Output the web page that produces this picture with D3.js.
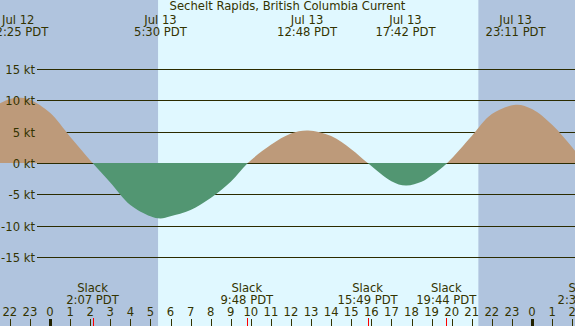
<!DOCTYPE html>
<html>
<head>
<meta charset="utf-8">
<script src="https://cdn.jsdelivr.net/npm/d3@7"></script>
<style>
  body { margin: 0; overflow: hidden; }
  svg { display: block; }
  text { font-family: 'DejaVu Sans', sans-serif; font-size: 11.6px; fill: #333300; }
</style>
</head>
<body>
<svg id="canverse"></svg>
<script>
// hours counted from Jul 13 00:00 PDT
let curveHours = [-2.5, -2, -1.58, -1, 0, 1, 2.12, 3, 4, 5, 5.5, 6, 7, 8, 9, 9.85, 11, 12, 12.85, 14, 15, 15.82, 17, 17.72, 18.5, 19, 19.78, 21, 22, 23.2, 24, 25, 26, 26.6]
let curveKnots = [9.5, 10.2, 10.4, 10.1, 8.0, 4.2, 0, -3.1, -6.7, -8.5, -8.85, -8.5, -7.5, -5.6, -3.0, 0, 2.9, 4.7, 5.2, 4.3, 2.2, 0, -2.9, -3.6, -3.0, -2.0, 0, 4.3, 7.8, 9.3, 8.6, 6.1, 2.5, 0]

let maxHours = [-1.583, 5.5, 12.8, 17.7, 23.183]
let maxDays = ['Jul 12', 'Jul 13', 'Jul 13', 'Jul 13', 'Jul 13']
let maxTimes = ['22:25 PDT', '5:30 PDT', '12:48 PDT', '17:42 PDT', '23:11 PDT']

let slackHours = [2.117, 9.8, 15.817, 19.733, 26.583]
let slackTimes = ['2:07 PDT', '9:48 PDT', '15:49 PDT', '19:44 PDT', '2:35 PDT']

let sunrise = 5.38
let sunset = 21.33

let ktTicks = [15, 10, 5, 0, -5, -10, -15]
let hourTicks = d3.range(-2, 27)

let title = 'Sechelt Rapids, British Columbia Current'

let width = 575
let height = 326

let svg = d3.select('#canverse').attr('width', width).attr('height', height)

let xScale = d3.scaleLinear().domain([0, 24]).range([50, 532])
let yScale = d3.scaleLinear().domain([-15, 15]).range([257, 69])
let y0 = Math.round(yScale(0))

// day / night background
svg.append('rect').attr('width', width).attr('height', height).attr('fill', '#e0f8ff')
svg.append('rect').attr('x', 0).attr('y', 0)
   .attr('width', xScale(sunrise)).attr('height', height).attr('fill', '#b0c4de')
svg.append('rect').attr('x', xScale(sunset)).attr('y', 0)
   .attr('width', width - xScale(sunset)).attr('height', height).attr('fill', '#b0c4de')

// kt grid
svg.selectAll('.grid')
   .data(ktTicks)
   .enter()
   .append('line')
   .attr('class', 'grid')
   .attr('x1', 37).attr('x2', width)
   .attr('y1', d => Math.round(yScale(d)) + 0.5)
   .attr('y2', d => Math.round(yScale(d)) + 0.5)
   .attr('stroke', '#2b2b00').attr('stroke-width', 1)

// current area, split at zero
let defs = svg.append('defs')
defs.append('clipPath').attr('id', 'above')
    .append('rect').attr('x', 0).attr('y', 0).attr('width', width).attr('height', y0)
defs.append('clipPath').attr('id', 'below')
    .append('rect').attr('x', 0).attr('y', y0).attr('width', width).attr('height', height - y0)

let points = curveHours.map((h, i) => [h, curveKnots[i]])
let area = d3.area()
             .x(d => xScale(d[0]))
             .y0(y0)
             .y1(d => yScale(d[1]))
             .curve(d3.curveCatmullRom.alpha(0.5))

svg.append('path').attr('d', area(points)).attr('fill', '#bd9a7a').attr('clip-path', 'url(#above)')
svg.append('path').attr('d', area(points)).attr('fill', '#529672').attr('clip-path', 'url(#below)')

svg.selectAll('.ktlabel')
   .data(ktTicks)
   .enter()
   .append('text')
   .attr('class', 'ktlabel')
   .attr('x', 35)
   .attr('y', d => Math.round(yScale(d)) + 5)
   .attr('text-anchor', 'end')
   .text(d => d + ' kt')

// title and max labels
svg.append('text').attr('x', width / 2).attr('y', 10).attr('text-anchor', 'middle').text(title)

let tops = svg.selectAll('.max')
              .data(maxHours)
              .enter()
              .append('g')
              .attr('class', 'max')
tops.append('text')
    .attr('x', d => xScale(d)).attr('y', 24).attr('text-anchor', 'middle')
    .text((d, i) => maxDays[i])
tops.append('text')
    .attr('x', d => xScale(d)).attr('y', 36).attr('text-anchor', 'middle')
    .text((d, i) => maxTimes[i])

// slack labels
let slacks = svg.selectAll('.slack')
                .data(slackHours)
                .enter()
                .append('g')
                .attr('class', 'slack')
slacks.append('text')
      .attr('x', d => xScale(d)).attr('y', 291.5).attr('text-anchor', 'middle')
      .text('Slack')
slacks.append('text')
      .attr('x', d => xScale(d)).attr('y', 303.5).attr('text-anchor', 'middle')
      .text((d, i) => slackTimes[i])
slacks.append('line')
      .attr('x1', d => Math.round(xScale(d)) + 0.5).attr('x2', d => Math.round(xScale(d)) + 0.5)
      .attr('y1', 318).attr('y2', height)
      .attr('stroke', '#ff0000').attr('stroke-width', 1)

// hour axis
svg.selectAll('.hour')
   .data(hourTicks)
   .enter()
   .append('text')
   .attr('class', 'hour')
   .attr('x', d => xScale(d)).attr('y', 315.5).attr('text-anchor', 'middle')
   .text(d => ((d % 24) + 24) % 24)

svg.selectAll('.tick')
   .data(hourTicks)
   .enter()
   .append('line')
   .attr('class', 'tick')
   .attr('x1', d => Math.round(xScale(d)) + 0.5).attr('x2', d => Math.round(xScale(d)) + 0.5)
   .attr('y1', 319).attr('y2', height)
   .attr('stroke', d => d % 24 == 0 ? '#222200' : '#333300')
   .attr('stroke-width', d => d % 24 == 0 ? 3 : 1)
</script>
</body>
</html>
